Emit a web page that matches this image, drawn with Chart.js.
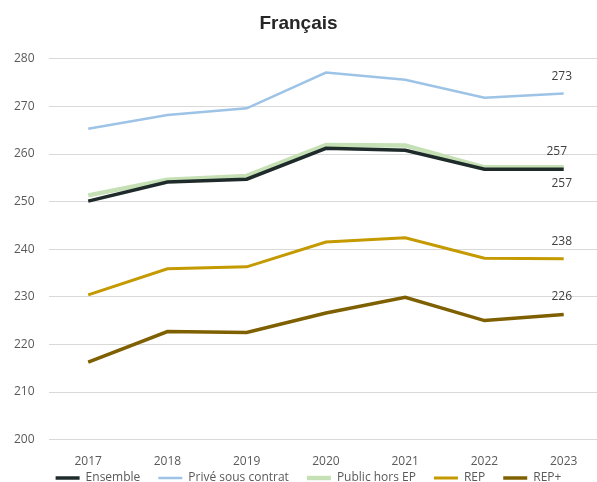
<!DOCTYPE html>
<html>
<head>
<meta charset="utf-8">
<script src="https://cdn.jsdelivr.net/npm/chart.js@4.4.1/dist/chart.umd.min.js"></script>
<style>
    html, body { margin: 0; padding: 0; background: #fff; overflow: hidden; }
    #wrap { width: 597px; height: 482px; }
</style>
</head>
<body>
<div id="wrap"><canvas id="chart" width="597" height="482"></canvas></div>
<script>
// values
const years = [2017, 2018, 2019, 2020, 2021, 2022, 2023];
const ensemble = [250.1, 254.1, 254.7, 261.2, 260.8, 256.8, 256.8];
const prive = [265.3, 268.2, 269.6, 277.1, 275.6, 271.8, 272.7];
const publicHorsEP = [251.3, 254.6, 255.4, 261.9, 261.8, 257.2, 257.2];
const rep = [230.4, 235.9, 236.3, 241.5, 242.4, 238.1, 238.0];
const repPlus = [216.3, 222.7, 222.5, 226.6, 229.9, 225.0, 226.3];
const yTicks = [200, 210, 220, 230, 240, 250, 260, 270, 280];
const endLabels = ['257', '273', '257', '238', '226'];

// label offsets from the last point (style only)
const endLabelOffsets = [[-2, 14], [-2, -17], [-7, -16], [-2, -17], [-2, -18]];

const FONT = "'Open Sans', 'Liberation Sans', sans-serif";
const GREY = '#595959';

const toPoints = (vals) => vals.map((v, i) => ({ x: years[i], y: v }));

const series = [
    { label: 'Ensemble', data: ensemble, color: '#1f2b2b', width: 3.5 },
    { label: 'Privé sous contrat', data: prive, color: '#9dc3e6', width: 2.5 },
    { label: 'Public hors EP', data: publicHorsEP, color: '#c5e0b4', width: 4.5 },
    { label: 'REP', data: rep, color: '#c49a00', width: 3 },
    { label: 'REP+', data: repPlus, color: '#7f6000', width: 3.5 }
];

const endLabelPlugin = {
    id: 'endLabels',
    afterDatasetsDraw(chart) {
        const ctx = chart.ctx;
        ctx.save();
        ctx.font = `12px ${FONT}`;
        ctx.fillStyle = '#404040';
        ctx.textAlign = 'center';
        ctx.textBaseline = 'middle';
        chart.data.datasets.forEach((ds, i) => {
            const meta = chart.getDatasetMeta(i);
            const pt = meta.data[meta.data.length - 1];
            const [dx, dy] = endLabelOffsets[i];
            ctx.fillText(endLabels[i], pt.x + dx, pt.y + dy);
        });
        ctx.restore();
    }
};

// nudge the legend into the slot under the year labels
const legendNudge = {
    id: 'legendNudge',
    afterLayout(chart) {
        const lg = chart.legend;
        if (!lg) return;
        lg.top -= 22; lg.bottom -= 22;
        lg.left += 10; lg.right += 10;
    }
};

new Chart(document.getElementById('chart'), {
    type: 'line',
    data: {
        datasets: series.map(s => ({
            label: s.label,
            data: toPoints(s.data),
            borderColor: s.color,
            backgroundColor: s.color,
            borderWidth: s.width,
            pointRadius: 0,
            tension: 0
        }))
    },
    options: {
        responsive: false,
        animation: false,
        layout: { padding: { left: 0, right: 0, top: 0, bottom: -34 } },
        plugins: {
            title: {
                display: true,
                text: 'Français',
                color: '#262626',
                font: { family: "'Liberation Sans', Arial, sans-serif", size: 19, weight: 'bold' },
                padding: { top: 12, bottom: 24 }
            },
            legend: {
                position: 'bottom',
                labels: {
                    usePointStyle: true,
                    pointStyle: 'line',
                    pointStyleWidth: 24,
                    padding: 18,
                    color: GREY,
                    font: { family: FONT, size: 12 }
                }
            },
            tooltip: { enabled: false }
        },
        scales: {
            x: {
                type: 'linear',
                min: 2016.5,
                max: 2023.42,
                afterBuildTicks: (axis) => { axis.ticks = years.map(v => ({ value: v })); },
                grid: { display: false },
                border: { display: false },
                ticks: { color: GREY, font: { family: FONT, size: 12 }, padding: 7, callback: (v) => String(v) }
            },
            y: {
                min: 200,
                max: 280,
                afterBuildTicks: (axis) => { axis.ticks = yTicks.map(v => ({ value: v })); },
                grid: { color: '#d9d9d9', drawTicks: false },
                border: { display: false },
                ticks: { color: GREY, font: { family: FONT, size: 12 }, padding: 14 }
            }
        }
    },
    plugins: [endLabelPlugin, legendNudge]
});
</script>
</body>
</html>
